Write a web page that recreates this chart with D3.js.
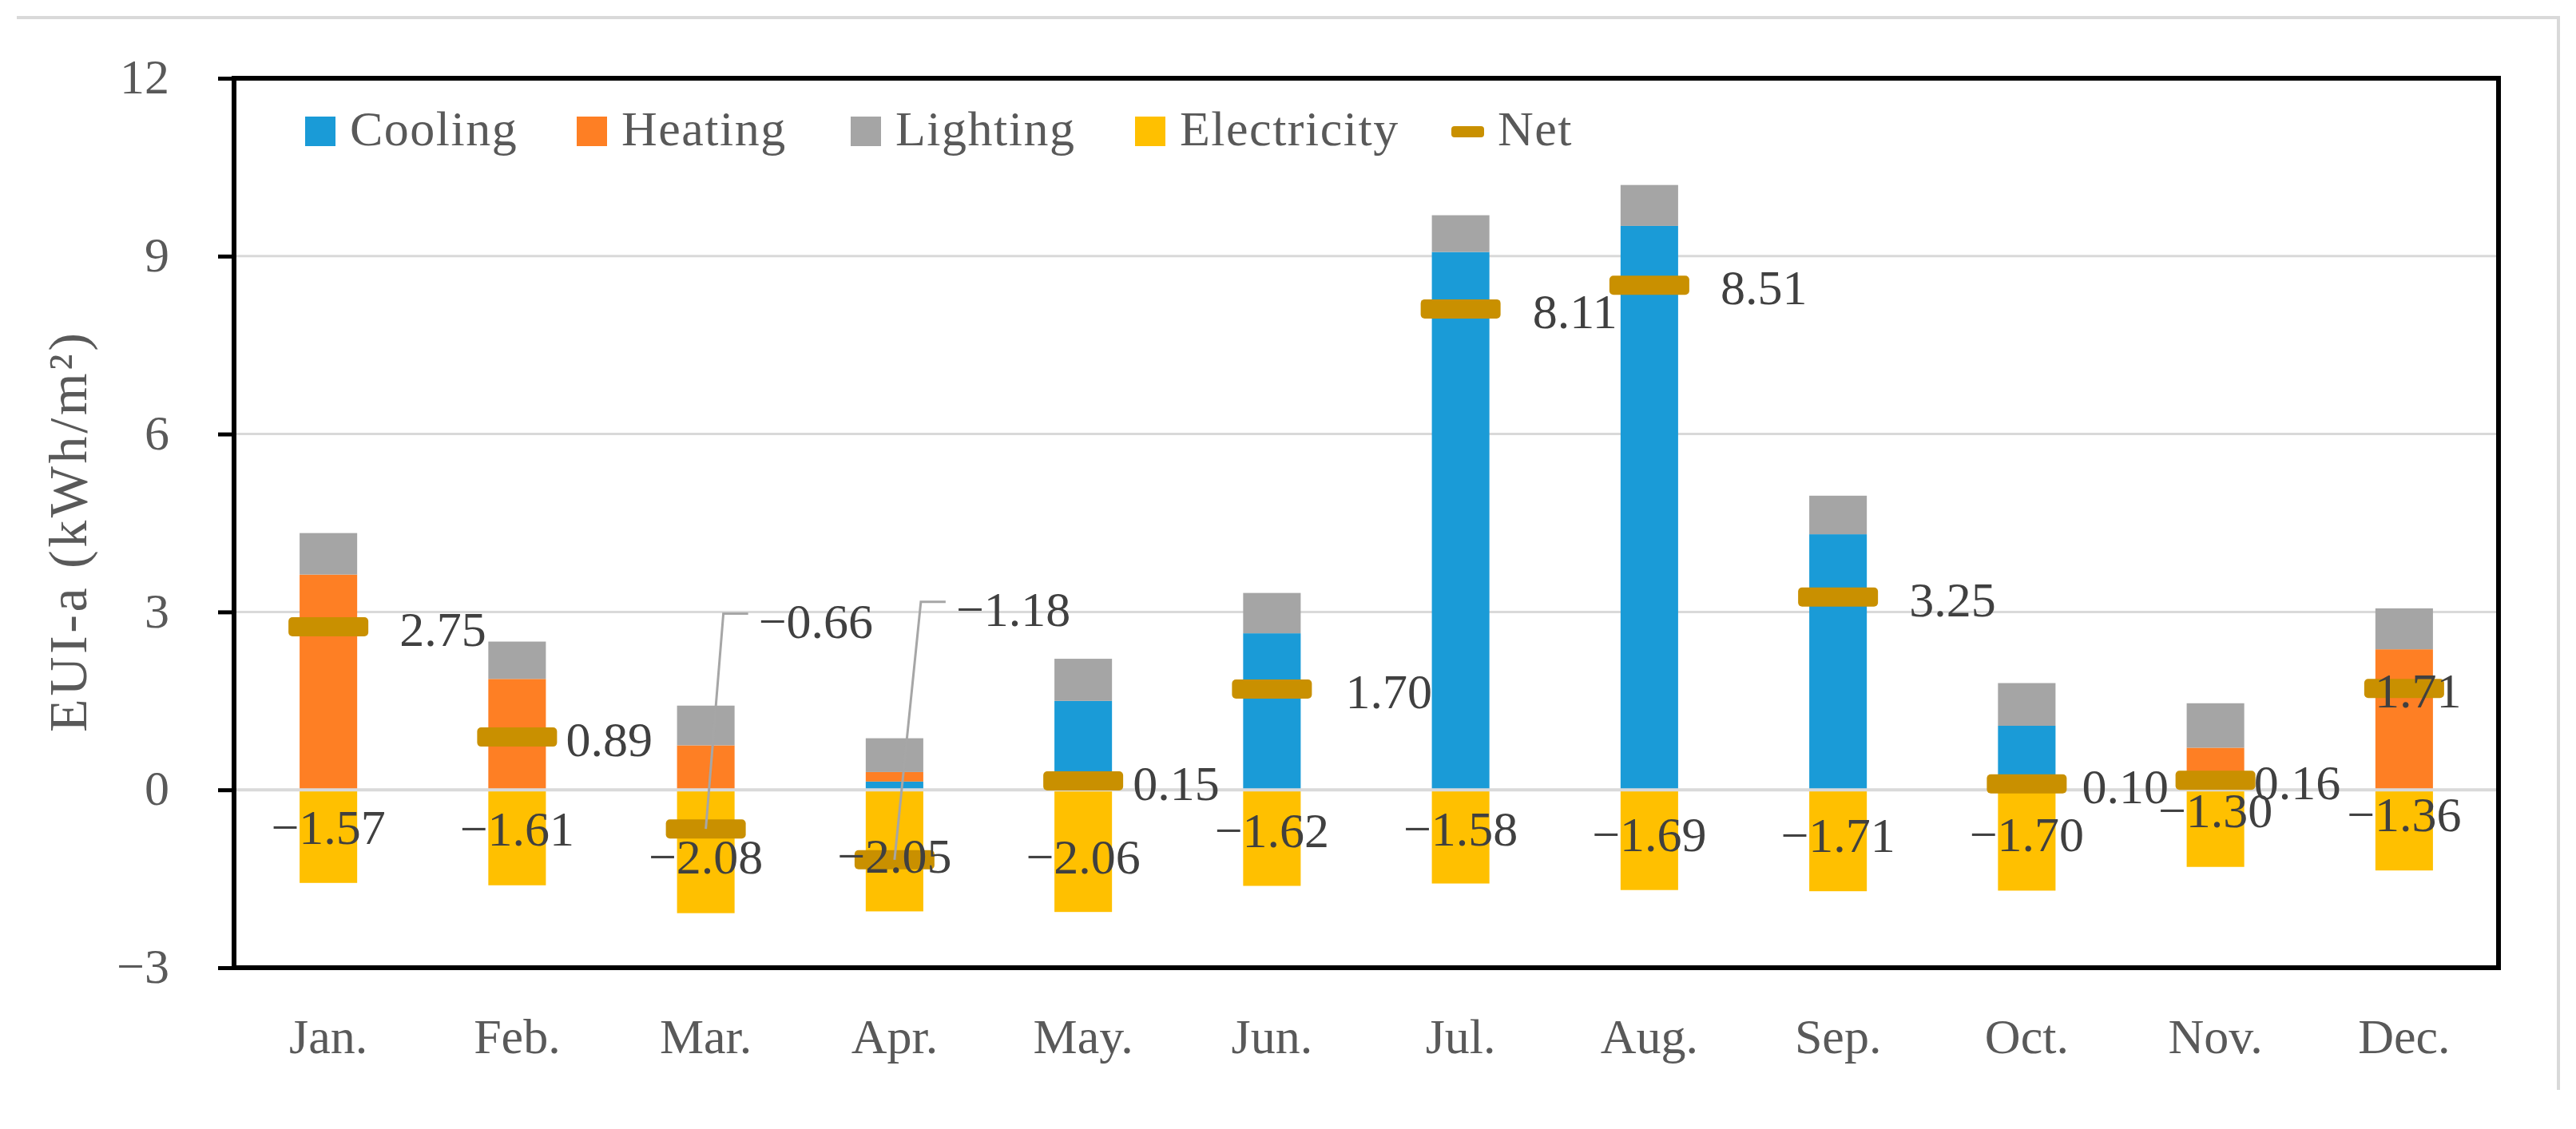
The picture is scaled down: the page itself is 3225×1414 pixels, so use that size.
<!DOCTYPE html>
<html>
<head>
<meta charset="utf-8">
<script src="https://cdn.jsdelivr.net/npm/d3@7"></script>
<style>
  html, body { margin: 0; padding: 0; background: #ffffff; }
  svg text { font-family: "Liberation Serif", "Times New Roman", serif; }
</style>
</head>
<body>
<svg id="chart" width="3225" height="1414"></svg>
<script>
// ---------------- data ----------------
const months      = ["Jan.","Feb.","Mar.","Apr.","May.","Jun.","Jul.","Aug.","Sep.","Oct.","Nov.","Dec."];
const cooling     = [0, 0, 0, 0.14, 1.50, 2.64, 9.07, 9.51, 4.31, 1.08, 0, 0];
const heating     = [3.63, 1.87, 0.75, 0.16, 0, 0, 0, 0, 0, 0, 0.71, 2.37];
const lighting    = [0.70, 0.63, 0.67, 0.57, 0.71, 0.68, 0.62, 0.69, 0.65, 0.72, 0.75, 0.69];
const electricity = [-1.57, -1.61, -2.08, -2.05, -2.06, -1.62, -1.58, -1.69, -1.71, -1.70, -1.30, -1.36];
const net         = [2.75, 0.89, -0.66, -1.18, 0.15, 1.70, 8.11, 8.51, 3.25, 0.10, 0.16, 1.71];
const yTicks      = [-3, 0, 3, 6, 9, 12];
const seriesNames = ["Cooling", "Heating", "Lighting", "Electricity", "Net"];

// ---------------- layout / style ----------------
const colors = { Cooling: "#1a9bd7", Heating: "#fe7f24", Lighting: "#a5a5a5", Electricity: "#ffc000", Net: "#c99000" };
const plot = { left: 293, right: 3128, top: 98, bottom: 1212 };
const FS = 62;
// label nudges (px), layout only
const elecLabelDy = [-11, -11, 7, 7, 7, -9, -10, -7, -7, -7, -22, -20];
const netLabelDx  = [89, 61, null, null, 62, 92, 90, 89, 89, 69, 48, -37];
const leaderLabels = { 2: { at: 2.85, dx: 66 }, 3: { at: 3.05, dx: 77 } };
const legendX = [382, 722, 1065, 1421, 1819];

const fmt = v => (v < 0 ? "\u2212" : "") + Math.abs(v).toFixed(2);

const svg = d3.select("#chart");

const x = d3.scaleBand().domain(months).range([plot.left, plot.right])
  .paddingInner(0.695).paddingOuter(0.3475);
const y = d3.scaleLinear().domain([-3, 12]).range([plot.bottom, plot.top]);
const cx = m => x(m) + x.bandwidth() / 2;

// chart-area border (top and right only visible)
svg.append("path")
  .attr("d", `M21,22 H3203 V1365`)
  .attr("fill", "none").attr("stroke", "#d9d9d9").attr("stroke-width", 4);

// gridlines
svg.append("g").selectAll("line")
  .data(yTicks.filter(t => t > -3 && t < 12 && t !== 0))
  .join("line")
  .attr("x1", plot.left).attr("x2", plot.right)
  .attr("y1", d => y(d)).attr("y2", d => y(d))
  .attr("stroke", "#d9d9d9").attr("stroke-width", 3);

// stacked positive bars
const rows = months.map((m, i) => ({ month: m, Cooling: cooling[i], Heating: heating[i], Lighting: lighting[i] }));
const stack = d3.stack().keys(["Cooling", "Heating", "Lighting"])(rows);
svg.append("g").selectAll("g")
  .data(stack).join("g")
  .attr("fill", d => colors[d.key])
  .selectAll("rect")
  .data(d => d.filter(s => s[1] - s[0] > 0)).join("rect")
  .attr("x", d => x(d.data.month))
  .attr("width", x.bandwidth())
  .attr("y", d => y(d[1]))
  .attr("height", d => y(d[0]) - y(d[1]));

// electricity (negative) bars
svg.append("g").selectAll("rect")
  .data(months).join("rect")
  .attr("fill", colors.Electricity)
  .attr("x", m => x(m))
  .attr("width", x.bandwidth())
  .attr("y", y(0))
  .attr("height", (m, i) => y(electricity[i]) - y(0));

// zero (category axis) line
svg.append("line")
  .attr("x1", plot.left).attr("x2", plot.right)
  .attr("y1", y(0)).attr("y2", y(0))
  .attr("stroke", "#d9d9d9").attr("stroke-width", 4);

// net markers
svg.append("g").selectAll("rect")
  .data(months).join("rect")
  .attr("fill", colors.Net)
  .attr("x", m => cx(m) - 50)
  .attr("width", 100)
  .attr("y", (m, i) => y(net[i]) - 12)
  .attr("height", 24)
  .attr("rx", 5);

// leader lines
Object.entries(leaderLabels).forEach(([i, L]) => {
  const m = months[+i];
  const ly = y(L.at) - 9;
  svg.append("path")
    .attr("d", `M${cx(m)},${y(net[+i])} L${cx(m) + L.dx - 44},${ly} H${cx(m) + L.dx - 13}`)
    .attr("fill", "none").attr("stroke", "#a6a6a6").attr("stroke-width", 3);
});

// electricity labels
svg.append("g").selectAll("text")
  .data(months).join("text")
  .attr("x", m => cx(m))
  .attr("y", (m, i) => y(electricity[i] / 2) + elecLabelDy[i])
  .attr("text-anchor", "middle").attr("dominant-baseline", "central")
  .attr("font-size", FS).attr("fill", "#404040")
  .text((m, i) => fmt(electricity[i]));

// net labels
svg.append("g").selectAll("text")
  .data(months).join("text")
  .attr("x", (m, i) => leaderLabels[i] ? cx(m) + leaderLabels[i].dx : cx(m) + netLabelDx[i])
  .attr("y", (m, i) => leaderLabels[i] ? y(leaderLabels[i].at) : y(net[i]) + 3)
  .attr("text-anchor", "start").attr("dominant-baseline", "central")
  .attr("font-size", FS).attr("fill", "#404040")
  .text((m, i) => fmt(net[i]));

// y axis
const yAxis = svg.append("g")
  .attr("transform", `translate(${plot.left},0)`)
  .call(d3.axisLeft(y).tickValues(yTicks).tickSize(20).tickPadding(61)
    .tickFormat(d => d < 0 ? "\u2212" + Math.abs(d) : String(d)));
yAxis.select(".domain").remove();
yAxis.selectAll(".tick line").attr("stroke", "#000").attr("stroke-width", 5);
yAxis.selectAll(".tick text")
  .attr("font-size", FS).attr("fill", "#595959")
  .attr("font-family", "Liberation Serif, serif")
  .attr("dy", "0.3em");

// x axis
const xAxis = svg.append("g")
  .attr("transform", `translate(0,${plot.bottom})`)
  .call(d3.axisBottom(x).tickSize(0));
xAxis.select(".domain").remove();
xAxis.selectAll(".tick text")
  .attr("y", 107).attr("dy", 0)
  .attr("font-size", FS).attr("fill", "#595959")
  .attr("font-family", "Liberation Serif, serif");

// plot border
svg.append("rect")
  .attr("x", plot.left).attr("y", plot.top)
  .attr("width", plot.right - plot.left).attr("height", plot.bottom - plot.top)
  .attr("fill", "none").attr("stroke", "#000").attr("stroke-width", 6);

// y axis title
svg.append("text")
  .attr("transform", `translate(108,667) rotate(-90)`)
  .attr("text-anchor", "middle")
  .attr("font-size", 68).attr("fill", "#595959")
  .attr("textLength", 500).attr("lengthAdjust", "spacing")
  .text("EUI-a (kWh/m²)");

// legend
const legend = svg.append("g").selectAll("g")
  .data(seriesNames).join("g")
  .attr("transform", (d, i) => `translate(${legendX[i]},0)`);
legend.filter(d => d !== "Net").append("rect")
  .attr("x", 0).attr("y", 146).attr("width", 38).attr("height", 37)
  .attr("fill", d => colors[d]);
legend.filter(d => d === "Net").append("rect")
  .attr("x", -2).attr("y", 158).attr("width", 41).attr("height", 14).attr("rx", 4)
  .attr("fill", colors.Net);
legend.append("text")
  .attr("x", 56).attr("y", 182)
  .attr("font-size", FS).attr("fill", "#595959")
  .attr("letter-spacing", 1.5)
  .text(d => d);
</script>
</body>
</html>
